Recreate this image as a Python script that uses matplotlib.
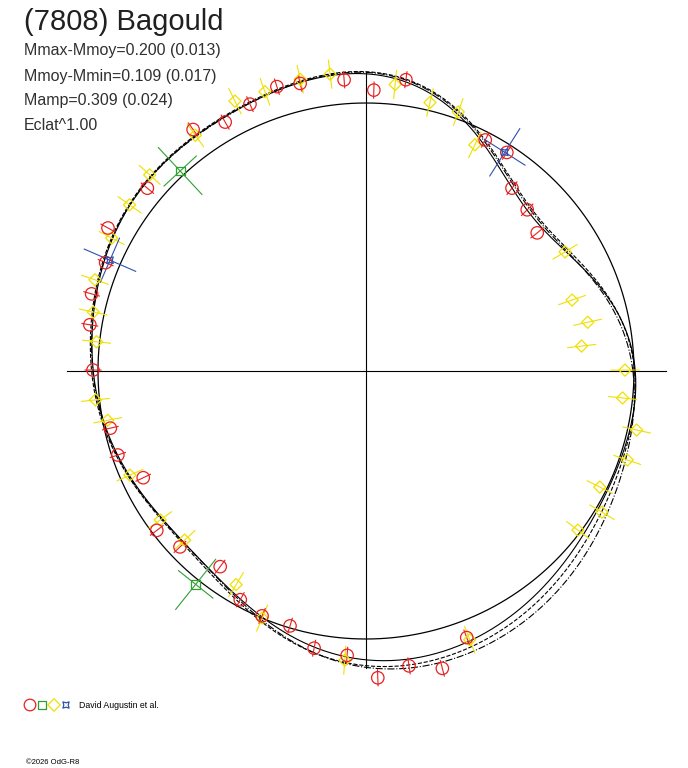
import numpy as np
import matplotlib
matplotlib.use("Agg")
import matplotlib.pyplot as plt

# polar light curve: angle (deg, counter-clockwise from east), radius (px)
red_ang = [82.2, 88.4, 94.3, 102.9, 107.4, 113.5, 119.5, 125.6, 140.1, 151.0, 157.4, 164.3, 170.5,
           179.8, 192.6, 198.7, 205.6, 217.3, 223.4, 233.3, 241.2, 247.0, 253.4, 259.4, 266.2,
           272.2, 278.3, 284.4, 290.7, 62.7, 57.2, 51.4, 45.0, 38.9]
red_r = [294, 281, 292, 295, 298, 291, 286, 297, 285, 295, 282, 285, 280,
         273, 262, 262, 247, 263, 256, 244, 261, 266, 266, 282, 285,
         307, 298, 307, 285, 260, 260, 234, 228, 220]

yel_ang = [96.9, 102.7, 109.9, 115.9, 125.9, 137.8, 144.9, 152.4, 161.4, 167.8, 173.8, 186.1,
           190.8, 203.8, 215.9, 223.0, 238.7, 247.2, 265.8, 291.1, 84.2, 76.6, 70.4, 64.3,
           30.9, 19.0, 12.4, 6.6, 0.2, 354.0, 347.7, 341.2, 333.6, 329.1, 323.1]
yel_r = [299, 299, 297, 300, 291, 292, 289, 287, 286, 279, 271, 272,
         263, 258, 254, 248, 250, 268, 290, 288, 288, 276, 275, 251,
         232, 218, 227, 217, 259, 258, 277, 276, 261, 275, 265]

green_ang = [132.9, 231.4]
green_r = [273, 273]
blue_ang = [156.6, 57.6]
blue_r = [279, 259]

# model curves sampled every 22.5 deg
curve_solid = [268, 246, 226, 268, 296, 293, 290, 283, 274, 258, 252, 266, 290, 288, 276, 270]
curve_dash = [267, 248, 230, 272, 298, 294, 291, 284, 276, 259, 254, 270, 296, 294, 282, 273]
curve_dashdot = [265, 246, 228, 271, 297, 293, 290, 283, 275, 258, 253, 268, 298, 299, 289, 277]
ref_radius = 268

CX, CY = 366, 371


def to_xy(ang, r):
    a = np.radians(np.asarray(ang, float))
    r = np.asarray(r, float)
    return CX + r * np.cos(a), CY - r * np.sin(a)


def smooth_curve(samples, nh=6):
    s = np.asarray(samples, float)
    c = np.fft.rfft(s) / len(s)
    t = np.linspace(0, 2 * np.pi, 721)
    r = np.full_like(t, c[0].real)
    for k in range(1, nh + 1):
        r += 2 * (c[k].real * np.cos(k * t) - c[k].imag * np.sin(k * t))
    return np.degrees(t), r


def err_cross(ax, ang, r, er, et, color, lw=0.8):
    a = np.radians(ang)
    ur = np.array([np.cos(a), -np.sin(a)])
    ut = np.array([-np.sin(a), -np.cos(a)])
    x, y = to_xy(ang, r)
    p = np.array([x, y])
    for u, e in ((ur, er), (ut, et)):
        if e > 0:
            ax.plot([p[0] - e * u[0], p[0] + e * u[0]], [p[1] - e * u[1], p[1] + e * u[1]],
                    color=color, lw=lw, zorder=3)


fig = plt.figure(figsize=(6.88, 7.68), dpi=100)
ax = fig.add_axes([0, 0, 1, 1])
ax.set_xlim(0, 688)
ax.set_ylim(768, 0)
ax.axis('off')

ax.plot([67, 666], [CY, CY], color='black', lw=0.8)
ax.plot([CX, CX], [73, 668], color='black', lw=0.8)

t = np.linspace(0, 360, 721)
ax.plot(*to_xy(t, np.full_like(t, ref_radius)), color='black', lw=0.9)
for samples, ls in ((curve_solid, '-'), (curve_dash, '--'), (curve_dashdot, '-.')):
    ang, r = smooth_curve(samples)
    ax.plot(*to_xy(ang, r), color='black', lw=0.8, ls=ls)

for a, r in zip(yel_ang, yel_r):
    err_cross(ax, a, r, 14, 0, '#f0e000')
x, y = to_xy(yel_ang, yel_r)
ax.scatter(x, y, marker='D', s=38, facecolors='none', edgecolors='#f0e000', lw=0.9, zorder=4)

for a, r in zip(red_ang, red_r):
    err_cross(ax, a, r, 8, 0, '#e82020')
x, y = to_xy(red_ang, red_r)
ax.scatter(x, y, marker='o', s=80, facecolors='none', edgecolors='#e82020', lw=0.9, zorder=5)

for a, r in zip(green_ang, green_r):
    err_cross(ax, a, r, 32, 22, '#30a030')
x, y = to_xy(green_ang, green_r)
ax.scatter(x, y, marker='s', s=40, facecolors='none', edgecolors='#30a030', lw=0.9, zorder=5)

for a, r in zip(blue_ang, blue_r):
    err_cross(ax, a, r, 28, 24, '#3050b0')
x, y = to_xy(blue_ang, blue_r)
ax.scatter(x, y, marker=(4, 1, 45), s=45, facecolors='none', edgecolors='#3050b0', lw=0.9, zorder=5)

font = ['Liberation Sans', 'DejaVu Sans']
ax.text(24, 22, '(7808) Bagould', fontsize=21, family=font, va='center', color='#202020')
for i, s in enumerate(['Mmax-Mmoy=0.200 (0.013)', 'Mmoy-Mmin=0.109 (0.017)',
                       'Mamp=0.309 (0.024)', 'Eclat^1.00']):
    ax.text(24, 51 + 25 * i, s, fontsize=11.5, family=font, va='center', color='#303030')

# legend
ax.scatter([30], [705], marker='o', s=70, facecolors='none', edgecolors='#e82020', lw=0.9)
ax.scatter([42], [705], marker='s', s=40, facecolors='none', edgecolors='#30a030', lw=0.9)
ax.scatter([54], [705], marker='D', s=40, facecolors='none', edgecolors='#f0e000', lw=0.9)
ax.scatter([66], [705], marker=(4, 1, 45), s=40, facecolors='none', edgecolors='#3050b0', lw=0.9)
ax.text(79, 705, 'David Augustin et al.', fontsize=6.3, family=font, va='center')
ax.text(26, 762, '\u00a92026 OdG-R8', fontsize=5.5, family=font, va='center')

fig.savefig('out.png', dpi=100, facecolor='white')
